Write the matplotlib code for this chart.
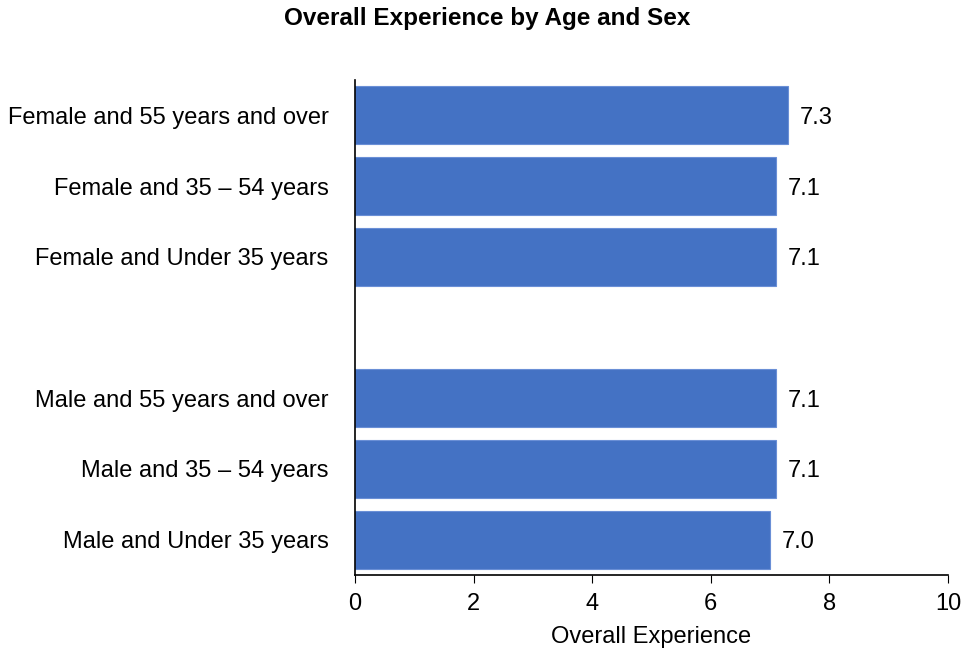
import matplotlib.pyplot as plt

plt.rcParams['font.family'] = ['Liberation Sans', 'DejaVu Sans']

# data, top to bottom ('' / None = empty slot between groups)
categories = ['Female and 55 years and over', 'Female and 35 – 54 years', 'Female and Under 35 years',
              '',
              'Male and 55 years and over', 'Male and 35 – 54 years', 'Male and Under 35 years']
values = [7.3, 7.1, 7.1, None, 7.1, 7.1, 7.0]

fig = plt.figure(figsize=(9.7, 6.57), dpi=100)
ax = fig.add_axes([355 / 970, (657 - 575) / 657, (948 - 355) / 970, (575 - 80) / 657])

ypos = list(range(len(categories)))
for y, v in zip(ypos, values):
    if v is None:
        continue
    ax.barh(y, v, height=0.82, color='#4472C4', edgecolor='#6a8fd6', linewidth=0.8)
    ax.text(v + 0.2, y, f'{v:.1f}', va='center_baseline', ha='left', fontsize=17)

ax.set_yticks(ypos)
ax.set_yticklabels(categories, fontsize=17)
ax.set_ylim(len(categories) - 0.5, -0.5)
ax.tick_params(axis='y', length=0, pad=19)

ax.set_xlim(0, 10)
ax.set_xticks([0, 2, 4, 6, 8, 10])
ax.tick_params(axis='x', labelsize=17, length=6, direction='out', pad=7)
ax.set_xlabel('Overall Experience', fontsize=17, labelpad=8)

for s in ['top', 'right']:
    ax.spines[s].set_visible(False)
ax.spines['left'].set_linewidth(1.2)
ax.spines['bottom'].set_linewidth(1.2)

fig.suptitle('Overall Experience by Age and Sex', fontsize=17.5, fontweight='bold', x=487 / 970, y=1 - 18 / 657, va='center')

fig.savefig('out.png', dpi=100)
